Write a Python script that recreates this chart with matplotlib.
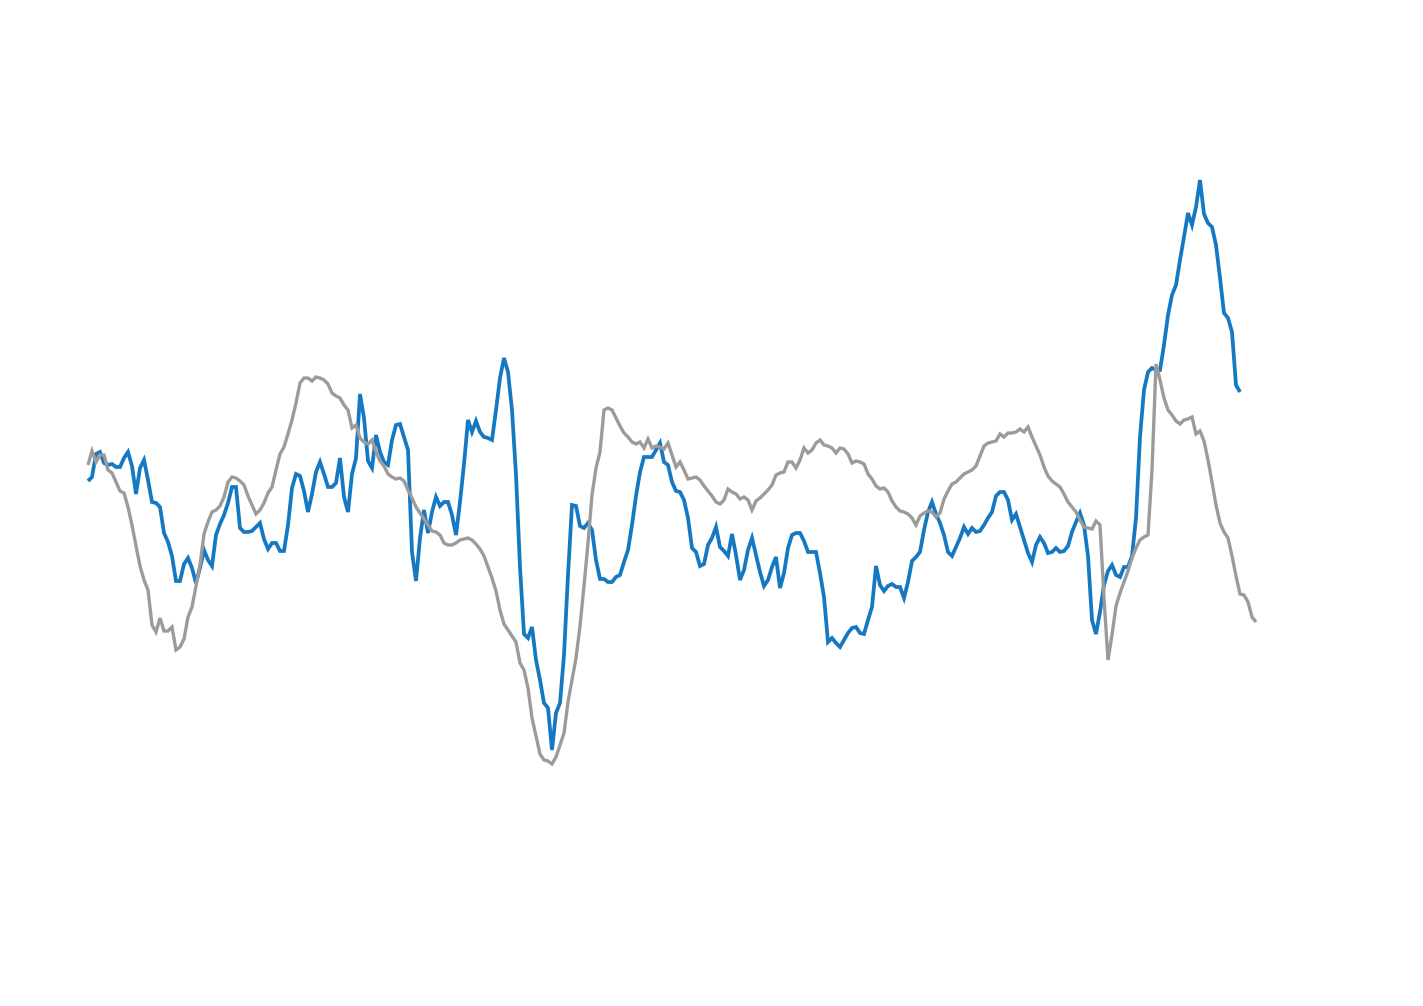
import numpy as np
import matplotlib
matplotlib.use('Agg')
import matplotlib.pyplot as plt

# monthly values, two series
blue_values = [
    11.9, 12.3, 14.6, 14.8, 13.7, 13.5, 13.6, 13.3, 13.3, 14.2,
    14.8, 13.4, 10.6, 13.2, 14.0, 12.0, 9.8, 9.7, 9.3, 6.7,
    5.8, 4.4, 1.9, 1.9, 3.6, 4.2, 3.2, 1.7, 3.2, 5.0,
    4.0, 3.4, 6.5, 7.6, 8.5, 9.7, 11.3, 11.3, 7.2, 6.8,
    6.8, 6.9, 7.3, 7.7, 6.1, 5.1, 5.7, 5.7, 4.9, 4.9,
    7.5, 11.2, 12.6, 12.4, 10.9, 8.8, 10.6, 12.8, 13.8, 12.6,
    11.3, 11.3, 11.7, 14.2, 10.3, 8.8, 12.6, 14.2, 20.6, 18.2,
    13.9, 13.2, 16.5, 14.8, 13.8, 13.5, 16.0, 17.5, 17.6, 16.3,
    15.0, 4.8, 1.9, 6.2, 9.0, 6.7, 8.8, 10.3, 9.4, 9.8,
    9.8, 8.5, 6.5, 9.8, 13.6, 18.0, 16.8, 17.9, 16.8, 16.3,
    16.2, 16.0, 19.0, 22.2, 24.2, 22.8, 19.0, 12.5, 3.3, -3.4,
    -3.8, -2.7, -6.0, -8.0, -10.3, -10.8, -15.0, -11.3, -10.3, -5.5,
    2.5, 9.5, 9.4, 7.4, 7.2, 7.7, 7.0, 4.0, 2.1, 2.1,
    1.8, 1.8, 2.3, 2.5, 3.8, 5.0, 7.5, 10.4, 12.8, 14.3,
    14.3, 14.3, 15.0, 15.7, 13.8, 13.5, 11.8, 10.9, 10.8, 10.0,
    8.2, 5.2, 4.8, 3.4, 3.6, 5.5, 6.2, 7.3, 5.3, 4.9,
    4.4, 6.6, 4.5, 2.0, 3.0, 5.0, 6.2, 4.5, 2.8, 1.4,
    2.0, 3.3, 4.3, 1.2, 2.7, 5.2, 6.5, 6.7, 6.7, 5.9,
    4.8, 4.8, 4.8, 2.7, 0.3, -4.2, -3.8, -4.3, -4.7, -4.0,
    -3.3, -2.8, -2.7, -3.3, -3.4, -2.0, -0.7, 3.4, 1.5, 0.9,
    1.4, 1.6, 1.3, 1.3, 0.2, 1.8, 3.9, 4.3, 4.8, 7.0,
    8.8, 9.8, 8.6, 7.7, 6.5, 4.8, 4.4, 5.3, 6.2, 7.3,
    6.6, 7.2, 6.8, 6.9, 7.5, 8.2, 8.8, 10.4, 10.8, 10.8,
    10.0, 8.0, 8.6, 7.3, 6.0, 4.7, 3.8, 5.5, 6.3, 5.7,
    4.7, 4.8, 5.2, 4.8, 4.9, 5.4, 6.8, 7.8, 8.7, 7.5,
    4.4, -2.0, -3.4, -1.2, 1.5, 2.9, 3.5, 2.5, 2.3, 3.3,
    3.3, 4.4, 8.2, 16.3, 21.0, 22.8, 23.2, 23.0, 23.0, 25.5,
    28.5, 30.5, 31.5, 34.0, 36.3, 38.7, 37.5, 39.3, 42.0, 38.6,
    37.7, 37.3, 35.5, 32.2, 28.7, 28.2, 26.8, 21.5, 20.8,
]

gray_values = [
    13.5, 14.9, 13.8, 14.5, 14.5, 13.0, 12.7, 11.8, 10.9, 10.7,
    9.3, 7.5, 5.4, 3.4, 2.0, 1.0, -2.5, -3.2, -1.8, -3.1,
    -3.1, -2.7, -5.0, -4.7, -3.9, -1.7, -0.7, 1.4, 3.5, 6.6,
    7.8, 8.8, 9.0, 9.4, 10.3, 11.8, 12.3, 12.2, 11.9, 11.5,
    10.4, 9.5, 8.6, 9.0, 9.7, 10.7, 11.3, 13.0, 14.6, 15.3,
    16.6, 18.0, 19.7, 21.7, 22.2, 22.2, 21.9, 22.3, 22.2, 22.0,
    21.6, 20.7, 20.4, 20.2, 19.5, 19.0, 17.2, 17.5, 16.2, 15.8,
    15.6, 16.0, 14.8, 13.9, 13.4, 12.6, 12.3, 12.1, 12.2, 11.9,
    11.0, 10.2, 9.3, 8.7, 8.1, 7.5, 6.9, 6.8, 6.5, 5.7,
    5.5, 5.5, 5.7, 6.0, 6.1, 6.2, 6.0, 5.6, 5.1, 4.4,
    3.3, 2.2, 0.9, -1.0, -2.4, -3.0, -3.6, -4.2, -6.3, -7.0,
    -8.8, -11.8, -13.6, -15.4, -16.0, -16.1, -16.4, -15.7, -14.5, -13.3,
    -10.2, -8.0, -5.8, -2.6, 1.4, 5.7, 10.5, 13.2, 14.8, 19.0,
    19.2, 19.0, 18.2, 17.4, 16.7, 16.3, 15.8, 15.6, 15.8, 15.2,
    16.1, 15.2, 15.4, 15.3, 15.1, 15.7, 14.5, 13.3, 13.8, 13.0,
    12.1, 12.2, 12.3, 12.0, 11.4, 10.9, 10.4, 9.8, 9.6, 10.0,
    11.1, 10.8, 10.6, 10.1, 10.3, 10.0, 9.0, 9.9, 10.2, 10.6,
    11.0, 11.5, 12.5, 12.7, 12.8, 13.8, 13.8, 13.2, 14.0, 15.2,
    14.7, 15.0, 15.7, 16.0, 15.5, 15.4, 15.2, 14.7, 15.2, 15.1,
    14.6, 13.7, 13.9, 13.8, 13.6, 12.6, 12.1, 11.4, 11.1, 11.2,
    10.8, 9.9, 9.3, 8.9, 8.8, 8.6, 8.2, 7.5, 8.4, 8.7,
    8.9, 8.8, 8.3, 8.7, 10.1, 10.9, 11.6, 11.8, 12.2, 12.6,
    12.8, 13.0, 13.4, 14.4, 15.4, 15.7, 15.8, 15.9, 16.6, 16.3,
    16.7, 16.7, 16.8, 17.1, 16.8, 17.3, 16.3, 15.4, 14.5, 13.3,
    12.4, 11.9, 11.6, 11.3, 10.6, 9.8, 9.3, 8.8, 8.0, 7.3,
    7.2, 7.1, 7.9, 7.5, 0.2, -6.0, -3.5, -0.6, 0.7, 1.8,
    2.9, 4.2, 5.2, 6.0, 6.3, 6.5, 13.0, 23.6, 22.0, 20.2,
    19.0, 18.5, 17.9, 17.6, 18.0, 18.1, 18.3, 16.6, 16.9, 15.9,
    14.0, 11.8, 9.5, 7.7, 6.8, 6.2, 4.4, 2.4, 0.6, 0.5,
    -0.2, -1.7, -2.2,
]

BLUE = '#1479c2'
GRAY = '#9b9b9c'

fig = plt.figure(figsize=(14.23, 10.06), dpi=100)
ax = fig.add_axes([0, 0, 1, 1])

ax.plot(np.arange(len(blue_values)), blue_values, color=BLUE, linewidth=2.7,
        solid_capstyle='butt', solid_joinstyle='miter')
ax.plot(np.arange(len(gray_values)), gray_values, color=GRAY, linewidth=2.4,
        solid_capstyle='butt', solid_joinstyle='miter')

ax.set_xlim(-22, 333.75)
ax.set_ylim(-40.6, 60)
ax.axis('off')

fig.savefig('out.png', dpi=100, facecolor='white')
